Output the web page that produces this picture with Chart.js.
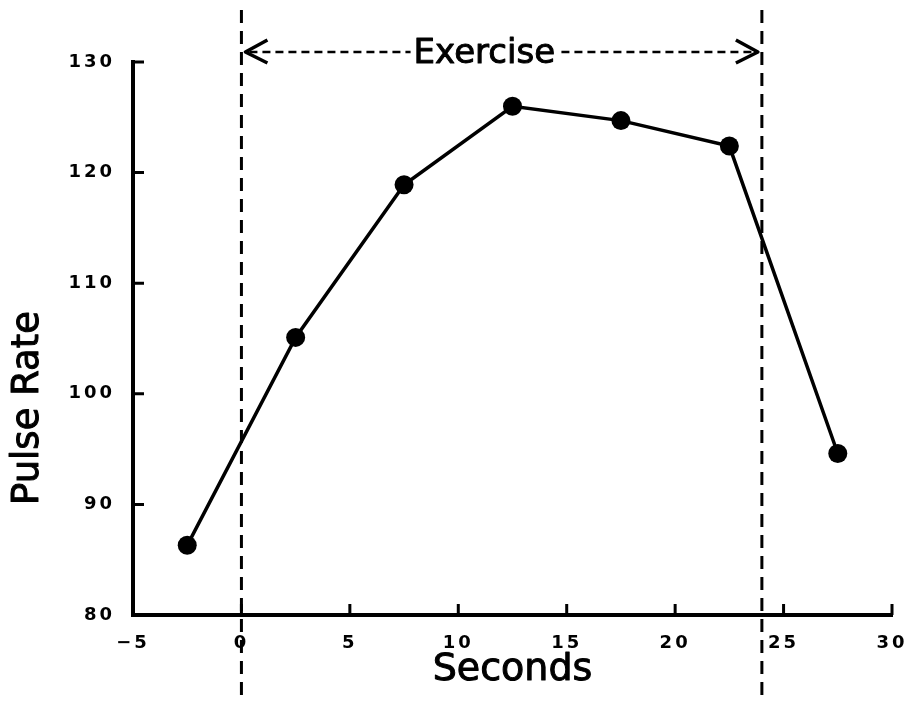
<!DOCTYPE html>
<html lang="en">
<head>
<meta charset="UTF-8" />
<title>Pulse Rate</title>
<script src="https://cdn.jsdelivr.net/npm/chart.js"></script>
<style>
  html, body { margin: 0; padding: 0; background: #fff; }
  canvas { display: block; }
</style>
</head>
<body>
<canvas id="pulseChart" width="905" height="702"></canvas>
<script>
  const seconds = [-2.5, 2.5, 7.5, 12.5, 17.5, 22.5, 27.5];
  const pulseRate = [86.3, 105.1, 118.9, 126.0, 124.7, 122.4, 94.6];
  const xTicks = [-5, 0, 5, 10, 15, 20, 25, 30];
  const xTickLabels = ['\u22125', '0', '5', '10', '15', '20', '25', '30'];
  const yTicks = [80, 90, 100, 110, 120, 130];
  const exerciseStart = 0;
  const exerciseEnd = 24;
  const exerciseLabel = 'Exercise';
  const xTitle = 'Seconds';
  const yTitle = 'Pulse Rate';

  const FONT = 'DejaVu Sans';

  // heavier hand-lettered look: fill plus a thin outline
  function boldText(ctx, text, x, y) {
    ctx.fillText(text, x, y);
    ctx.lineWidth = 1;
    ctx.strokeText(text, x, y);
  }

  // dashed markers, arrow, tick marks and axis titles
  const overlay = {
    id: 'overlay',
    beforeDraw(chart) {
      chart.ctx.letterSpacing = '3px'; // wide tick lettering
    },
    beforeDatasetsDraw(chart) {
      chart.ctx.letterSpacing = '0px';
    },
    afterDraw(chart) {
      const ctx = chart.ctx;
      const xs = chart.scales.x;
      const ys = chart.scales.y;
      const area = chart.chartArea;
      ctx.save();
      ctx.letterSpacing = '0px';
      ctx.strokeStyle = '#000';
      ctx.fillStyle = '#000';
      ctx.lineCap = 'butt';

      // inward tick marks
      ctx.lineWidth = 3;
      ctx.beginPath();
      yTicks.slice(1).forEach(v => {
        const y = ys.getPixelForValue(v);
        ctx.moveTo(area.left, y);
        ctx.lineTo(area.left + 11, y);
      });
      xTicks.slice(1).forEach(v => {
        const x = xs.getPixelForValue(v);
        ctx.moveTo(x, area.bottom);
        ctx.lineTo(x, area.bottom - 11);
      });
      ctx.stroke();

      // exercise boundaries
      const x0 = xs.getPixelForValue(exerciseStart);
      const x1 = xs.getPixelForValue(exerciseEnd);
      ctx.lineWidth = 3;
      ctx.setLineDash([13, 8]);
      ctx.beginPath();
      ctx.moveTo(x0, 10); ctx.lineTo(x0, chart.height);
      ctx.moveTo(x1, 10); ctx.lineTo(x1, chart.height);
      ctx.stroke();

      // arrow
      const ay = 52;
      ctx.lineWidth = 2.5;
      ctx.setLineDash([8, 5]);
      ctx.beginPath();
      ctx.moveTo(x0 + 8, ay); ctx.lineTo(x1 - 8, ay);
      ctx.stroke();
      ctx.setLineDash([]);
      ctx.lineWidth = 3.5;
      ctx.lineJoin = 'round';
      ctx.beginPath();
      ctx.moveTo(x0 + 26, ay - 12); ctx.lineTo(x0 + 4, ay); ctx.lineTo(x0 + 26, ay + 11);
      ctx.moveTo(x1 - 26, ay - 12); ctx.lineTo(x1 - 4, ay); ctx.lineTo(x1 - 26, ay + 11);
      ctx.stroke();

      ctx.font = '34px "' + FONT + '"';
      ctx.textAlign = 'center';
      ctx.textBaseline = 'alphabetic';
      const lx = xs.getPixelForValue(11.2);
      const w = ctx.measureText(exerciseLabel).width;
      ctx.fillStyle = '#fff';
      ctx.fillRect(lx - w / 2 - 3, ay - 16, w + 6, 30);
      ctx.fillStyle = '#000';
      boldText(ctx, exerciseLabel, lx, 63);

      // axis titles
      ctx.font = '38px "' + FONT + '"';
      boldText(ctx, xTitle, (area.left + area.right) / 2, 680);
      ctx.font = '37px "' + FONT + '"';
      ctx.translate(38, 408);
      ctx.rotate(-Math.PI / 2);
      boldText(ctx, yTitle, 0, 0);
      ctx.restore();
    }
  };

  const tickFont = { family: FONT, size: 18, weight: 'bold' };

  new Chart(document.getElementById('pulseChart'), {
    type: 'line',
    data: {
      datasets: [{
        data: seconds.map((s, i) => ({ x: s, y: pulseRate[i] })),
        borderColor: '#000',
        borderWidth: 3.5,
        pointRadius: 9.5,
        pointBackgroundColor: '#000',
        pointBorderWidth: 0,
        tension: 0
      }]
    },
    options: {
      responsive: false,
      animation: false,
      layout: { padding: { top: 62, right: 13, left: 0, bottom: 0 } },
      plugins: { legend: { display: false }, tooltip: { enabled: false } },
      scales: {
        x: {
          type: 'linear',
          min: -5,
          max: 30,
          afterBuildTicks: s => { s.ticks = xTicks.map(v => ({ value: v })); },
          afterFit: s => { s.height = 87; s.paddingLeft = 0; s.paddingRight = 0; },
          grid: { display: false },
          border: { display: true, color: '#000', width: 4 },
          ticks: {
            color: '#000',
            font: tickFont,
            padding: 10,
            maxRotation: 0,
            callback: v => xTickLabels[xTicks.indexOf(v)]
          }
        },
        y: {
          min: 80,
          max: 130,
          afterBuildTicks: s => { s.ticks = yTicks.map(v => ({ value: v })); },
          afterFit: s => { s.width = 133; s.paddingTop = 0; s.paddingBottom = 0; },
          grid: { display: false },
          border: { display: true, color: '#000', width: 4 },
          ticks: { color: '#000', font: tickFont, padding: 10 }
        }
      }
    },
    plugins: [overlay]
  });
</script>
</body>
</html>
